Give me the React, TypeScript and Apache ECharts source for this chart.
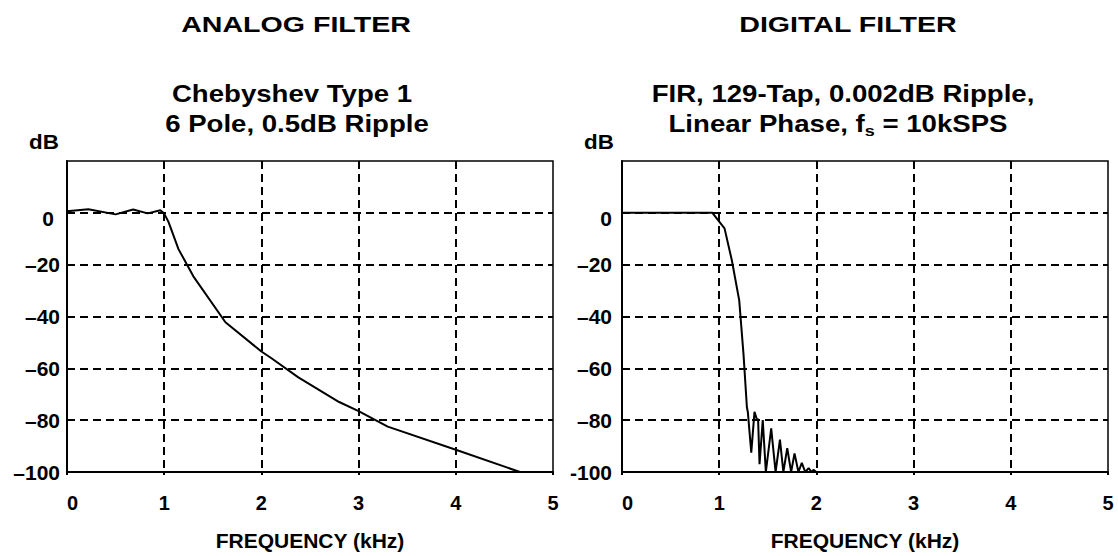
import React, { useEffect, useRef } from "react";
import * as echarts from "echarts";

const FONT = '"Liberation Sans", Arial, sans-serif';

// Analog filter: Chebyshev Type 1, 6 pole, 0.5dB ripple (kHz, dB)
const analogFreq = [0, 0.22, 0.5, 0.68, 0.83, 0.96, 1.0, 1.044, 1.147, 1.3, 1.63, 2.0, 2.1, 2.38, 2.8, 3.0, 3.3, 4.0, 4.66];
const analogDb = [0.6, 1.4, -0.6, 1.3, -0.2, 1.0, -0.3, -3.5, -14, -24.5, -42.2, -53.5, -56, -63.5, -73, -76.5, -82.5, -91.4, -100];

// Digital filter: FIR, 129-tap (kHz, dB)
const digitalFreq = [0, 0.93, 0.976, 1.055, 1.13, 1.206, 1.25, 1.285, 1.295, 1.33, 1.363, 1.39, 1.4, 1.415, 1.448, 1.48, 1.535, 1.58, 1.625, 1.66, 1.7, 1.74, 1.775, 1.815, 1.85, 1.885, 1.92, 1.95, 1.97, 2.0];
const digitalDb = [0, 0, -2.2, -6, -18.3, -33.8, -54.5, -75, -77, -92.5, -76.8, -80, -79.5, -97, -80, -100, -83.2, -100, -87.5, -100, -90.8, -100, -92.8, -100, -96.5, -100, -98.5, -100, -99.2, -100];

const xTicks = [0, 1, 2, 3, 4, 5];
const yMin = -100;
const yMax = 20;
const yStep = 20;

function pairs(xs: number[], ys: number[]) {
  return xs.map((x, i) => [x, ys[i]]);
}

const labelBase = { fontFamily: FONT, fontWeight: "bold", color: "#000" };

function makeX(gridIndex: number) {
  return {
    gridIndex,
    type: "value",
    min: xTicks[0],
    max: xTicks[xTicks.length - 1],
    interval: 1,
    axisLine: { show: true, onZero: false, lineStyle: { color: "#000", width: 2 } },
    axisTick: { show: true, length: 3, lineStyle: { color: "#000", width: 2 } },
    splitLine: {
      show: true,
      showMinLine: false,
      showMaxLine: false,
      lineStyle: { color: "#000", width: 2, type: [8, 5] },
    },
    axisLabel: { ...labelBase, fontSize: 20, margin: 21, alignMinLabel: "left" },
    name: "FREQUENCY (kHz)",
    nameLocation: "middle",
    nameGap: 58,
    nameTextStyle: { ...labelBase, fontSize: 21 },
  };
}

function makeY(gridIndex: number) {
  const left = gridIndex === 0;
  return {
    gridIndex,
    type: "value",
    min: yMin,
    max: yMax,
    interval: yStep,
    axisLine: { show: true, lineStyle: { color: "#000", width: 2 } },
    axisTick: { show: false },
    splitLine: {
      show: true,
      showMinLine: false,
      showMaxLine: false,
      lineStyle: { color: "#000", width: 2, type: [8, 5] },
    },
    axisLabel: {
      ...labelBase,
      fontSize: 21,
      margin: left ? 7 : 10,
      formatter: (v: number) => {
        if (v === yMax) return "";
        if (v === 0) return "{z|0}";
        if (v === yMin && !left) return "-" + -v;
        return "\u2013" + -v;
      },
      rich: {
        z: { ...labelBase, fontSize: 21, padding: left ? [12, 6, 0, 0] : [12, 0, 0, 0] },
      },
    },
  };
}

function txt(text: string, x: number, y: number, size: number, sx: number) {
  return {
    type: "text",
    x,
    y,
    scaleX: sx,
    style: {
      text,
      fill: "#000",
      fontFamily: FONT,
      fontWeight: "bold",
      fontSize: size,
      textAlign: "center",
      textVerticalAlign: "middle",
      align: "center",
      verticalAlign: "middle",
    },
  };
}

export default function App() {
  const ref = useRef<HTMLDivElement>(null);
  useEffect(() => {
    if (!ref.current) return;
    const chart = echarts.init(ref.current, null, { renderer: "svg" });
    const gridBase = { top: 161, width: 486, height: 311, show: true, borderColor: "#000", borderWidth: 1.5, backgroundColor: "transparent" };
    chart.setOption({
      animation: false,
      backgroundColor: "#fff",
      grid: [
        { ...gridBase, left: 67 },
        { ...gridBase, left: 622 },
      ],
      xAxis: [makeX(0), makeX(1)],
      yAxis: [makeY(0), makeY(1)],
      series: [
        {
          type: "line",
          xAxisIndex: 0,
          yAxisIndex: 0,
          data: pairs(analogFreq, analogDb),
          showSymbol: false,
          symbol: "none",
          lineStyle: { color: "#000", width: 2 },
          clip: true,
        },
        {
          type: "line",
          xAxisIndex: 1,
          yAxisIndex: 1,
          data: pairs(digitalFreq, digitalDb),
          showSymbol: false,
          symbol: "none",
          lineStyle: { color: "#000", width: 2 },
          clip: true,
        },
      ],
      graphic: [
        txt("ANALOG FILTER", 296, 24, 22, 1.3),
        txt("DIGITAL FILTER", 848, 24, 22, 1.3),
        txt("Chebyshev Type 1", 292, 94, 23, 1.2),
        txt("6 Pole, 0.5dB Ripple", 297, 124, 23, 1.2),
        txt("FIR, 129-Tap, 0.002dB Ripple,", 843, 94, 23, 1.2),
        {
          type: "text",
          x: 838,
          y: 124,
          scaleX: 1.2,
          style: {
            text: "{n|Linear Phase, f}{s|s}{n| = 10kSPS}",
            fill: "#000",
            fontFamily: FONT,
            fontWeight: "bold",
            fontSize: 23,
            textAlign: "center",
            textVerticalAlign: "middle",
            align: "center",
            verticalAlign: "middle",
            rich: {
              n: { fontFamily: FONT, fontWeight: "bold", fontSize: 23, lineHeight: 30, fill: "#000", color: "#000" },
              s: { fontFamily: FONT, fontWeight: "bold", fontSize: 15, fill: "#000", color: "#000", verticalAlign: "bottom" },
            },
          },
        },
        txt("dB", 44, 142, 20, 1.12),
        txt("dB", 599, 142, 20, 1.12),
      ],
    });
    return () => chart.dispose();
  }, []);
  return <div ref={ref} style={{ position: "absolute", left: 0, top: 0, width: 1118, height: 556 }} />;
}
